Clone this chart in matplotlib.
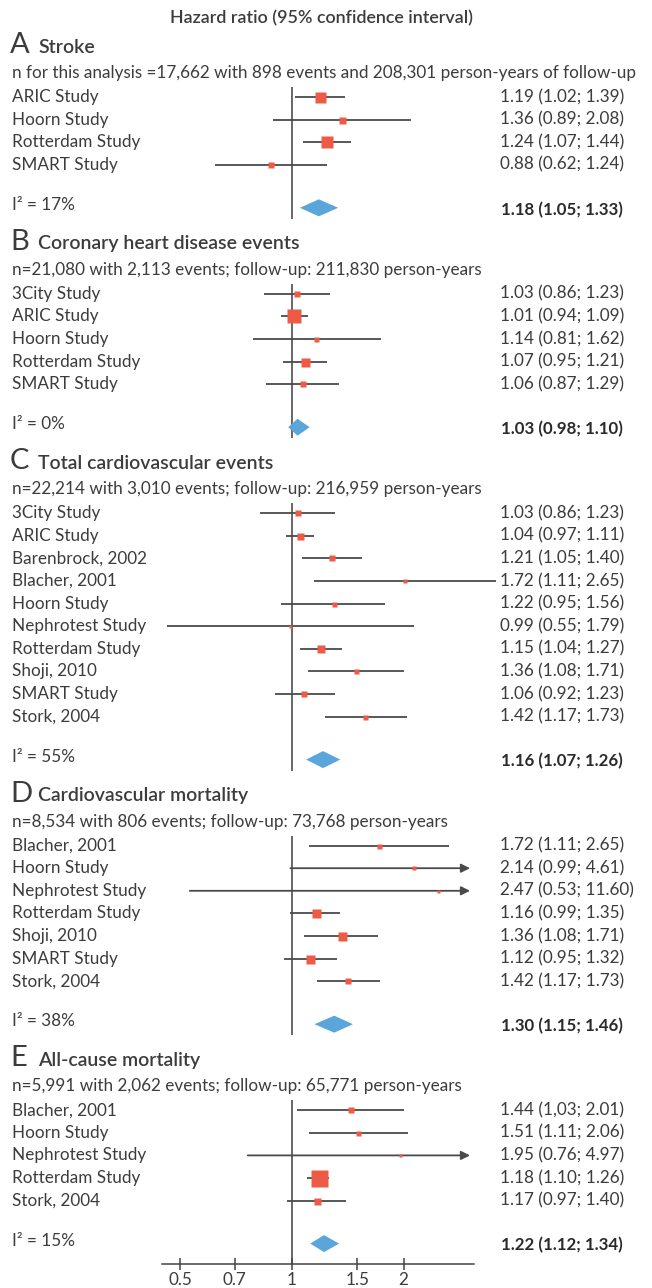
import numpy as np
import matplotlib
matplotlib.use("Agg")
import matplotlib.pyplot as plt

# ---------------- data ----------------
title = "Hazard ratio (95% confidence interval)"

A_letter, A_name = "A", "Stroke"
A_n = "n for this analysis =17,662 with 898 events and 208,301 person-years of follow-up"
A_studies = ["ARIC Study", "Hoorn Study", "Rotterdam Study", "SMART Study"]
A_hr = [1.19, 1.36, 1.24, 0.88]
A_lo = [1.02, 0.89, 1.07, 0.62]
A_hi = [1.39, 2.08, 1.44, 1.24]
A_weight = [11, 7, 12, 6]
A_pooled = [1.18, 1.05, 1.33]
A_i2 = 17

B_letter, B_name = "B", "Coronary heart disease events"
B_n = "n=21,080 with 2,113 events; follow-up: 211,830 person-years"
B_studies = ["3City Study", "ARIC Study", "Hoorn Study", "Rotterdam Study", "SMART Study"]
B_hr = [1.03, 1.01, 1.14, 1.07, 1.06]
B_lo = [0.86, 0.94, 0.81, 0.95, 0.87]
B_hi = [1.23, 1.09, 1.62, 1.21, 1.29]
B_weight = [6, 14, 5, 9, 6]
B_pooled = [1.03, 0.98, 1.10]
B_i2 = 0

C_letter, C_name = "C", "Total cardiovascular events"
C_n = "n=22,214 with 3,010 events; follow-up: 216,959 person-years"
C_studies = ["3City Study", "ARIC Study", "Barenbrock, 2002", "Blacher, 2001", "Hoorn Study",
             "Nephrotest Study", "Rotterdam Study", "Shoji, 2010", "SMART Study", "Stork, 2004"]
C_hr = [1.03, 1.04, 1.21, 1.72, 1.22, 0.99, 1.15, 1.36, 1.06, 1.42]
C_lo = [0.86, 0.97, 1.05, 1.11, 0.95, 0.55, 1.04, 1.08, 0.92, 1.17]
C_hi = [1.23, 1.11, 1.40, 2.65, 1.56, 1.79, 1.27, 1.71, 1.23, 1.73]
C_weight = [6, 7, 6, 3.5, 5, 3, 8, 5, 6, 5]
C_pooled = [1.16, 1.07, 1.26]
C_i2 = 55

D_letter, D_name = "D", "Cardiovascular mortality"
D_n = "n=8,534 with 806 events; follow-up: 73,768 person-years"
D_studies = ["Blacher, 2001", "Hoorn Study", "Nephrotest Study", "Rotterdam Study",
             "Shoji, 2010", "SMART Study", "Stork, 2004"]
D_hr = [1.72, 2.14, 2.47, 1.16, 1.36, 1.12, 1.42]
D_lo = [1.11, 0.99, 0.53, 0.99, 1.08, 0.95, 1.17]
D_hi = [2.65, 4.61, 11.60, 1.35, 1.71, 1.32, 1.73]
D_weight = [5, 4, 3, 9, 9, 9, 6]
D_pooled = [1.30, 1.15, 1.46]
D_i2 = 38

E_letter, E_name = "E", "All-cause mortality"
E_n = "n=5,991 with 2,062 events; follow-up: 65,771 person-years"
E_studies = ["Blacher, 2001", "Hoorn Study", "Nephrotest Study", "Rotterdam Study", "Stork, 2004"]
E_hr = [1.44, 1.51, 1.95, 1.18, 1.17]
E_lo = [1.03, 1.11, 0.76, 1.10, 0.97]
E_hi = [2.01, 2.06, 4.97, 1.26, 1.40]
E_weight = [6, 5, 3, 17, 7]
E_pooled = [1.22, 1.12, 1.34]
E_i2 = 15
E_label_override = {0: "1.44 (1,03; 2.01)"}   # as printed in the source

tick_values = [0.5, 0.7, 1, 1.5, 2]
tick_labels = ["0.5", "0.7", "1", "1.5", "2"]

# ---------------- style / layout ----------------
W, H = 652, 1288
DPI = 100
FONT = ["Lato", "DejaVu Sans"]
TXT = "#3c3c3c"
SQ = "#ee5a45"
DIA = "#5aa5da"
REF_X = 292          # pixel of HR = 1
ARROW_PX = 470       # pixel where truncated CIs end with an arrow
ROW = 22.6
FS = 12.3

plt.rcParams["font.family"] = FONT

panels = [
    dict(letter=A_letter, name=A_name, n=A_n, studies=A_studies, hr=A_hr, lo=A_lo, hi=A_hi,
         w=A_weight, pooled=A_pooled, i2=A_i2, k=162, over={}),
    dict(letter=B_letter, name=B_name, n=B_n, studies=B_studies, hr=B_hr, lo=B_lo, hi=B_hi,
         w=B_weight, pooled=B_pooled, i2=B_i2, k=185, over={}),
    dict(letter=C_letter, name=C_name, n=C_n, studies=C_studies, hr=C_hr, lo=C_lo, hi=C_hi,
         w=C_weight, pooled=C_pooled, i2=C_i2, k=209, over={}),
    dict(letter=D_letter, name=D_name, n=D_n, studies=D_studies, hr=D_hr, lo=D_lo, hi=D_hi,
         w=D_weight, pooled=D_pooled, i2=D_i2, k=161, over={}),
    dict(letter=E_letter, name=E_name, n=E_n, studies=E_studies, hr=E_hr, lo=E_lo, hi=E_hi,
         w=E_weight, pooled=E_pooled, i2=E_i2, k=161, over=E_label_override),
]

fig = plt.figure(figsize=(W / DPI, H / DPI), dpi=DPI)
fig.patch.set_facecolor("white")

# text layer in pixel coordinates
tax = fig.add_axes([0, 0, 1, 1])
tax.set_xlim(0, W)
tax.set_ylim(H, 0)
tax.axis("off")

tax.text(322, 18, title, ha="center", va="center", fontsize=12.9, color=TXT,
         fontweight="semibold")

AXIS_Y = 1264
first = 97.0
for pi, p in enumerate(panels):
    nrow = len(p["studies"])
    ys = [first + i * ROW for i in range(nrow)]
    ypool = ys[-1] + 43
    # headers
    tax.text(10, first - 52, p["letter"], ha="left", va="center", fontsize=21, color=TXT)
    tax.text(38, first - 50, p["name"], ha="left", va="center", fontsize=14,
             color=TXT, fontweight="semibold")
    tax.text(12, first - 24, p["n"], ha="left", va="center", fontsize=FS, color=TXT)
    for i, (s, y) in enumerate(zip(p["studies"], ys)):
        tax.text(12, y, s, ha="left", va="center", fontsize=FS, color=TXT)
        lab = p["over"].get(i, f"{p['hr'][i]:.2f} ({p['lo'][i]:.2f}; {p['hi'][i]:.2f})")
        tax.text(500, y, lab, ha="left", va="center", fontsize=FS, color=TXT)
    tax.text(12, ypool - 3, f"I\u00b2 = {p['i2']}%", ha="left", va="center",
             fontsize=FS, color=TXT)
    pe, pl, ph = p["pooled"]
    tax.text(501, ypool + 2, f"{pe:.2f} ({pl:.2f}; {ph:.2f})", ha="left", va="center",
             fontsize=12.2, color="#2a2a2a", fontweight="bold")

    # forest axes: full width, vertical span in pixels
    last = pi == len(panels) - 1
    top = first - 14
    bottom = AXIS_Y if last else ypool + 14
    ax = fig.add_axes([0, 1 - bottom / H, 1, (bottom - top) / H])
    ax.patch.set_alpha(0)
    ax.set_xscale("log")
    k = p["k"]
    ax.set_xlim(np.exp(-REF_X / k), np.exp((W - REF_X) / k))
    ax.set_ylim(bottom, top)
    for sp in ax.spines.values():
        sp.set_visible(False)
    ax.set_yticks([])
    ax.minorticks_off()

    # reference line at HR = 1
    ax.plot([1, 1], [first - 10, (AXIS_Y if last else ypool + 11)], color="#666666",
            lw=1.4, solid_capstyle="butt", zorder=1)

    xmax_arrow = np.exp((ARROW_PX - REF_X) / k)
    for i, y in enumerate(ys):
        lo, hi, hr = p["lo"][i], p["hi"][i], p["hr"][i]
        if hi > xmax_arrow * 1.05 and k < 180:
            ax.annotate("", xy=(xmax_arrow, y), xytext=(lo, y),
                        arrowprops=dict(arrowstyle="-|>", color="#4a4a4a", lw=1.3,
                                        mutation_scale=13, shrinkA=0, shrinkB=0),
                        zorder=2, annotation_clip=False)
        else:
            ax.plot([lo, hi], [y, y], color="#4a4a4a", lw=1.3, zorder=2,
                    solid_capstyle="butt", clip_on=False)
        ax.plot([hr], [y], marker="s", ms=p["w"][i] * 72 / DPI, color=SQ,
                mec="none", zorder=3, linestyle="none")

    # pooled diamond
    h = 8.5
    ax.fill([pl, pe, ph, pe], [ypool, ypool - h, ypool, ypool + h], color=DIA,
            lw=0, zorder=3)

    if last:
        ax.spines["bottom"].set_visible(True)
        ax.spines["bottom"].set_color("#444444")
        ax.spines["bottom"].set_linewidth(1.1)
        ax.spines["bottom"].set_bounds(np.exp((162 - REF_X) / k), np.exp((474 - REF_X) / k))
        ax.set_xticks(tick_values)
        ax.set_xticklabels(tick_labels)
        ax.tick_params(axis="x", direction="inout", length=9, width=1.1, color="#444444",
                       labelsize=FS, labelcolor=TXT, pad=1)
        ax.minorticks_off()
    else:
        ax.set_xticks([])

    first = ypool + 86

fig.savefig("out.png", dpi=DPI, facecolor="white")
